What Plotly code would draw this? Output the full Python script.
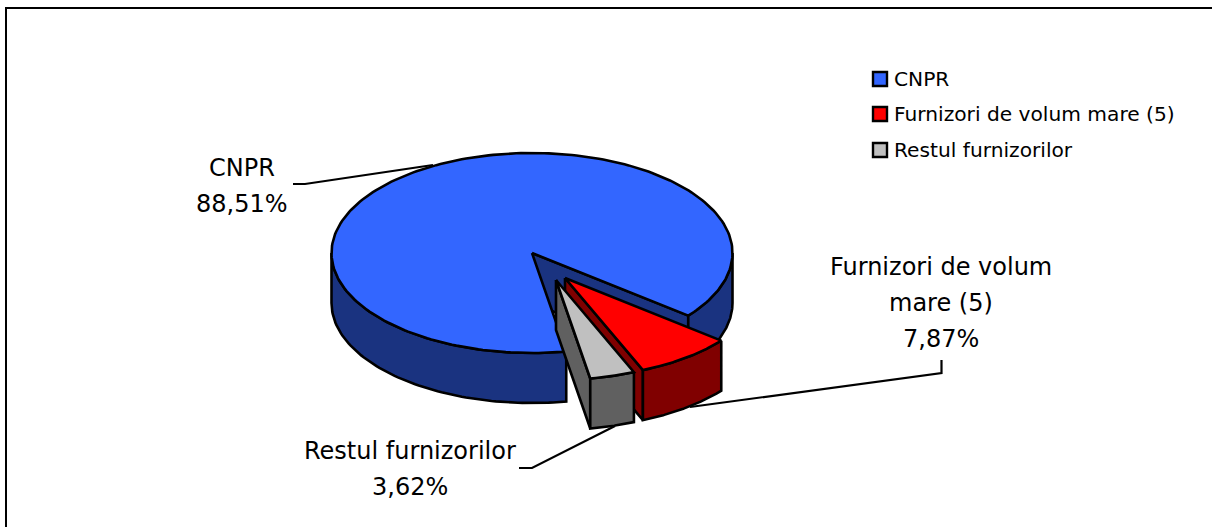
import numpy as np
import plotly.graph_objects as go

categories = ["CNPR", "Furnizori de volum mare (5)", "Restul furnizorilor"]
values = [88.51, 7.87, 3.62]
value_labels = ["88,51%", "7,87%", "3,62%"]
slice_label_lines = [["CNPR", "88,51%"], ["Furnizori de volum", "mare (5)", "7,87%"], ["Restul furnizorilor", "3,62%"]]

top_colors = ["#3366FF", "#FF0000", "#C0C0C0"]
side_colors = ["#1A3380", "#800000", "#606060"]

# pie geometry, in page pixels
CX, CY, RX, RY, DEPTH = 532, 253, 200.5, 100, 50
START_DEG = 38.8
OFFSETS = [(0, 0), (33, 25), (24, 27)]
FONT = "DejaVu Sans"
TEXT = "#000000"
LABEL_SIZE = 24
LEGEND_SIZE = 20.2
OUTLINE = 2.6


def rim(a0, a1, dx, dy, n=80):
    t = np.radians(np.linspace(a0, a1, n))
    return CX + dx + RX * np.cos(t), CY + dy + RY * np.sin(t)


def poly(x, y, color, name):
    return go.Scatter(x=list(x) + [x[0]], y=list(y) + [y[0]], mode="lines", fill="toself",
                      fillcolor=color, line=dict(color="black", width=OUTLINE, shape="linear"),
                      hoverinfo="text", text=name, showlegend=False)


def wall(a0, a1, dx, dy, color, name):
    x, y = rim(a0, a1, dx, dy)
    return poly(np.r_[x, x[::-1]], np.r_[y, y[::-1] + DEPTH], color, name)


def cut(a, dx, dy, color, name):
    x, y = rim(a, a, dx, dy, 1)
    px, py = CX + dx, CY + dy
    return poly([px, x[0], x[0], px], [py, y[0], y[0] + DEPTH, py + DEPTH], color, name)


def top(a0, a1, dx, dy, color, name):
    x, y = rim(a0, a1, dx, dy, 240)
    return poly(np.r_[CX + dx, x], np.r_[CY + dy, y], color, name)


spans = np.array(values) / sum(values) * 360
red_a0 = START_DEG
red_a1 = red_a0 + spans[1]
grey_a1 = red_a1 + spans[2]
blue_a0 = grey_a1
blue_a1 = START_DEG + 360

fig = go.Figure()

# frame: only the top and left rules show in the reference
fig.add_trace(go.Scatter(x=[6, 6, 1212], y=[527, 8, 8], mode="lines",
                         line=dict(color="black", width=2), hoverinfo="skip", showlegend=False))

# leader lines go underneath the pie
leaders = [([293, 305, 433], [184, 184, 165]),
           ([941.5, 941.5, 690], [360, 373, 407]),
           ([519, 532, 615], [468, 468, 426])]
for lx, ly in leaders:
    fig.add_trace(go.Scatter(x=lx, y=ly, mode="lines", line=dict(color="black", width=2.2),
                             hoverinfo="skip", showlegend=False))

# CNPR
fig.add_trace(cut(START_DEG, 0, 0, side_colors[0], categories[0]))
fig.add_trace(wall(0, START_DEG, 0, 0, side_colors[0], categories[0]))
fig.add_trace(wall(blue_a0, 180, 0, 0, side_colors[0], categories[0]))
fig.add_trace(top(blue_a0, blue_a1, 0, 0, top_colors[0], categories[0]))

# Furnizori de volum mare
d = OFFSETS[1]
fig.add_trace(cut(red_a1, d[0], d[1], side_colors[1], categories[1]))
fig.add_trace(wall(red_a0, red_a1, d[0], d[1], side_colors[1], categories[1]))
fig.add_trace(top(red_a0, red_a1, d[0], d[1], top_colors[1], categories[1]))

# Restul furnizorilor
d = OFFSETS[2]
fig.add_trace(cut(grey_a1, d[0], d[1], side_colors[2], categories[2]))
fig.add_trace(wall(red_a1, grey_a1, d[0], d[1], side_colors[2], categories[2]))
fig.add_trace(top(red_a1, grey_a1, d[0], d[1], top_colors[2], categories[2]))

# legend
for name, color, ly in zip(categories, top_colors, [79, 114, 150]):
    fig.add_trace(go.Scatter(x=[880], y=[ly], mode="markers", name=name,
                             marker=dict(symbol="square", size=14, color=color,
                                         line=dict(color="black", width=2.4)),
                             hoverinfo="text", text=[name], showlegend=False))
    fig.add_annotation(x=893, y=ly, text=name, showarrow=False, xanchor="left", xshift=-1,
                       font=dict(family=FONT, size=LEGEND_SIZE, color=TEXT))

# slice labels, one annotation per line to hold the reference's 36px line pitch
for lines, ax, ay in zip(slice_label_lines, [242, 941, 410], [168, 267, 451]):
    for i, line in enumerate(lines):
        fig.add_annotation(x=ax, y=ay + i * 36, text=line, showarrow=False, align="center",
                           font=dict(family=FONT, size=LABEL_SIZE, color=TEXT))

fig.update_layout(
    width=1212, height=527, margin=dict(l=0, r=0, t=0, b=0),
    paper_bgcolor="white", plot_bgcolor="white", showlegend=False,
    xaxis=dict(range=[0, 1212], visible=False, fixedrange=True),
    yaxis=dict(range=[527, 0], visible=False, fixedrange=True),
)
fig.write_html("out.html", config={"displayModeBar": False},
               post_script="document.body.style.margin='0';document.body.style.overflow='hidden';")
